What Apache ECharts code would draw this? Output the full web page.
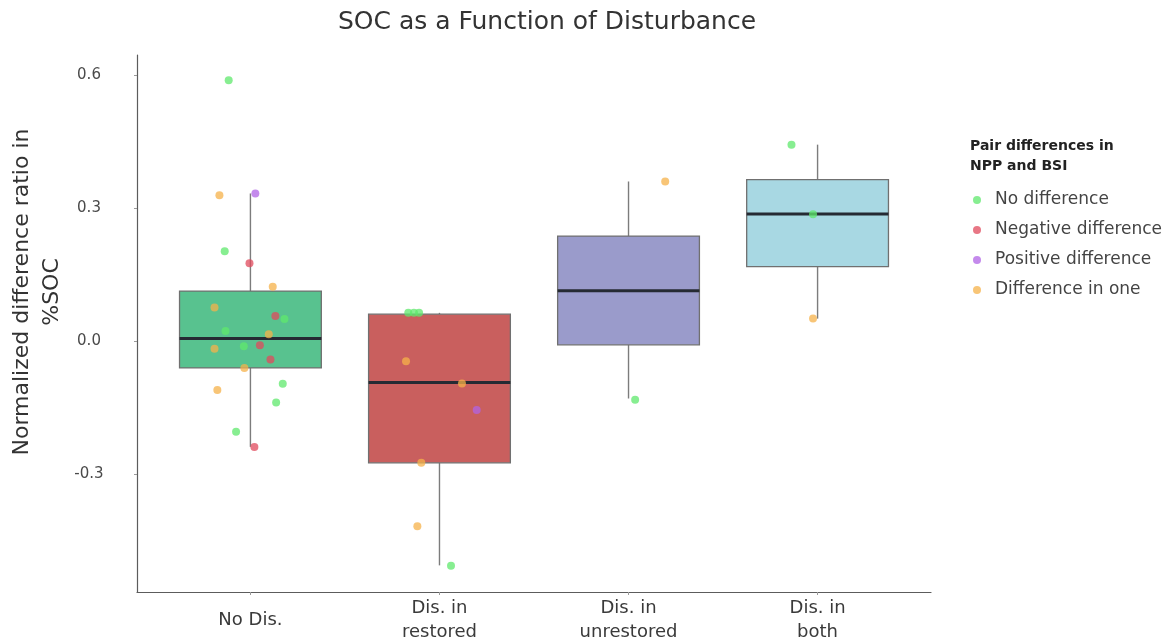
<!DOCTYPE html>
<html>
<head>
<meta charset="utf-8">
<title>SOC as a Function of Disturbance</title>
<script src="https://cdn.jsdelivr.net/npm/echarts@6/dist/echarts.min.js"></script>
<style>
  html, body { margin: 0; padding: 0; background: #ffffff; }
  #chart { width: 1176px; height: 644px; }
</style>
</head>
<body>
<div id="chart"></div>
<script>
// Disturbance categories (x axis, positions 1..4)
const categories = ['No Dis.', 'Dis. in\nrestored', 'Dis. in\nunrestored', 'Dis. in\nboth'];
const yTicks = [-0.3, 0.0, 0.3, 0.6];

// Box summary per category
const boxMin    = [-0.238, -0.505, -0.129, 0.051];
const boxQ1     = [-0.060, -0.274, -0.008, 0.168];
const boxMedian = [ 0.006, -0.093,  0.114, 0.287];
const boxQ3     = [ 0.113,  0.061,  0.237, 0.364];
const boxMax    = [ 0.333,  0.064,  0.360, 0.443];
const boxFill   = ['#58c28f', '#c95f5e', '#9a9bcb', '#a8d8e3'];

// Individual pairs: [category index, jitter offset, value]
const groups = ['No difference', 'Negative difference', 'Positive difference', 'Difference in one'];
const groupColors = ['#5fe86c', '#e04a5c', '#b063e6', '#f6b24a'];

const noDifference = [
  [0, -0.115, 0.588], [0, -0.136, 0.203], [0, 0.180, 0.050], [0, -0.132, 0.023],
  [0, -0.035, -0.011], [0, 0.171, -0.096], [0, 0.136, -0.138], [0, -0.076, -0.204],
  [1, -0.165, 0.064], [1, -0.135, 0.064], [1, -0.108, 0.064], [1, 0.061, -0.506],
  [2, 0.035, -0.132],
  [3, -0.024, 0.286], [3, -0.138, 0.443]
];
const negativeDifference = [
  [0, -0.005, 0.176], [0, 0.132, 0.057], [0, 0.050, -0.009], [0, 0.106, -0.041], [0, 0.021, -0.238]
];
const positiveDifference = [
  [0, 0.026, 0.333], [1, 0.197, -0.155]
];
const differenceInOne = [
  [0, -0.164, 0.329], [0, 0.118, 0.123], [0, -0.190, 0.076], [0, 0.097, 0.016],
  [0, -0.190, -0.017], [0, -0.032, -0.060], [0, -0.175, -0.110],
  [1, -0.177, -0.045], [1, 0.119, -0.095], [1, -0.096, -0.274], [1, -0.117, -0.417],
  [2, 0.194, 0.360],
  [3, -0.024, 0.051]
];
const groupPoints = [noDifference, negativeDifference, positiveDifference, differenceInOne];

const FONT = 'DejaVu Sans';
const BOX_WIDTH = 0.75;

const boxData = categories.map((c, i) => [i + 1, boxMin[i], boxQ1[i], boxMedian[i], boxQ3[i], boxMax[i]]);

function renderBox(params, api) {
  const x = api.value(0);
  const pMin = api.coord([x, api.value(1)]);
  const pQ1 = api.coord([x, api.value(2)]);
  const pMed = api.coord([x, api.value(3)]);
  const pQ3 = api.coord([x, api.value(4)]);
  const pMax = api.coord([x, api.value(5)]);
  const half = api.size([BOX_WIDTH, 0])[0] / 2;
  const whisker = { stroke: '#7c7c7c', lineWidth: 1.4 };
  return {
    type: 'group',
    children: [
      { type: 'line', shape: { x1: pMin[0], y1: pMin[1], x2: pQ1[0], y2: pQ1[1] }, style: whisker },
      { type: 'line', shape: { x1: pQ3[0], y1: pQ3[1], x2: pMax[0], y2: pMax[1] }, style: whisker },
      { type: 'rect',
        shape: { x: pQ1[0] - half, y: pQ3[1], width: half * 2, height: pQ1[1] - pQ3[1] },
        style: { fill: boxFill[params.dataIndex], stroke: '#707070', lineWidth: 1.3 } },
      { type: 'line', shape: { x1: pMed[0] - half, y1: pMed[1], x2: pMed[0] + half, y2: pMed[1] },
        style: { stroke: '#252a33', lineWidth: 3 } }
    ]
  };
}

const scatterSeries = groups.map((name, g) => ({
  name: name,
  type: 'scatter',
  symbol: 'circle',
  symbolSize: 8,
  z: 5,
  itemStyle: { color: groupColors[g], opacity: 0.75 },
  data: groupPoints[g].map(p => [p[0] + 1 + p[1], p[2]])
}));

const chart = echarts.init(document.getElementById('chart'), null, { renderer: 'canvas' });
chart.setOption({
  backgroundColor: '#ffffff',
  animation: false,
  grid: { left: 137, right: 245, top: 55, bottom: 52, containLabel: false },
  xAxis: {
    type: 'value',
    min: 0.4,
    max: 4.6,
    splitLine: { show: false },
    axisLine: { show: true, onZero: false, lineStyle: { color: '#5c5c5c', width: 1.2 } },
    axisTick: { show: true, customValues: [1, 2, 3, 4], length: 3, lineStyle: { color: '#9a9a9a' } },
    axisLabel: {
      customValues: [1, 2, 3, 4],
      formatter: v => categories[Math.round(v) - 1] || '',
      verticalAlign: 'middle',
      margin: 28,
      lineHeight: 24,
      fontFamily: FONT,
      fontSize: 18,
      color: '#3a3a3a'
    }
  },
  yAxis: {
    type: 'value',
    min: -0.565,
    max: 0.645,
    splitLine: { show: false },
    axisLine: { show: true, onZero: false, lineStyle: { color: '#5c5c5c', width: 1.2 } },
    axisTick: { show: true, customValues: yTicks, length: 3, lineStyle: { color: '#9a9a9a' } },
    axisLabel: {
      customValues: yTicks,
      formatter: v => v.toFixed(1),
      align: 'center',
      margin: 48,
      fontFamily: FONT,
      fontSize: 15,
      color: '#4a4a4a'
    }
  },
  legend: {
    orient: 'vertical',
    left: 968,
    top: 186,
    icon: 'circle',
    itemWidth: 8,
    itemHeight: 8,
    itemGap: 12,
    data: groups,
    textStyle: { fontFamily: FONT, fontSize: 17, color: '#444444', lineHeight: 18, padding: [0, 0, 0, 9] }
  },
  graphic: [
    { type: 'text', x: 547, y: 22,
      style: { text: 'SOC as a Function of Disturbance', font: '25px "DejaVu Sans"', fill: '#333333',
               textAlign: 'center', textVerticalAlign: 'middle' } },
    { type: 'text', x: 37, y: 292, rotation: Math.PI / 2,
      style: { text: 'Normalized difference ratio in\n%SOC', font: '22px "DejaVu Sans"', fill: '#333333',
               lineHeight: 30, textAlign: 'center', textVerticalAlign: 'middle' } },
    { type: 'text', x: 970, y: 156,
      style: { text: 'Pair differences in\nNPP and BSI', font: 'bold 14px "DejaVu Sans"', fill: '#222222',
               lineHeight: 20, textAlign: 'left', textVerticalAlign: 'middle' } }
  ],
  series: [
    {
      name: 'boxes',
      type: 'custom',
      renderItem: renderBox,
      encode: { x: 0, y: [1, 2, 3, 4, 5] },
      z: 2,
      data: boxData
    }
  ].concat(scatterSeries)
});
</script>
</body>
</html>
